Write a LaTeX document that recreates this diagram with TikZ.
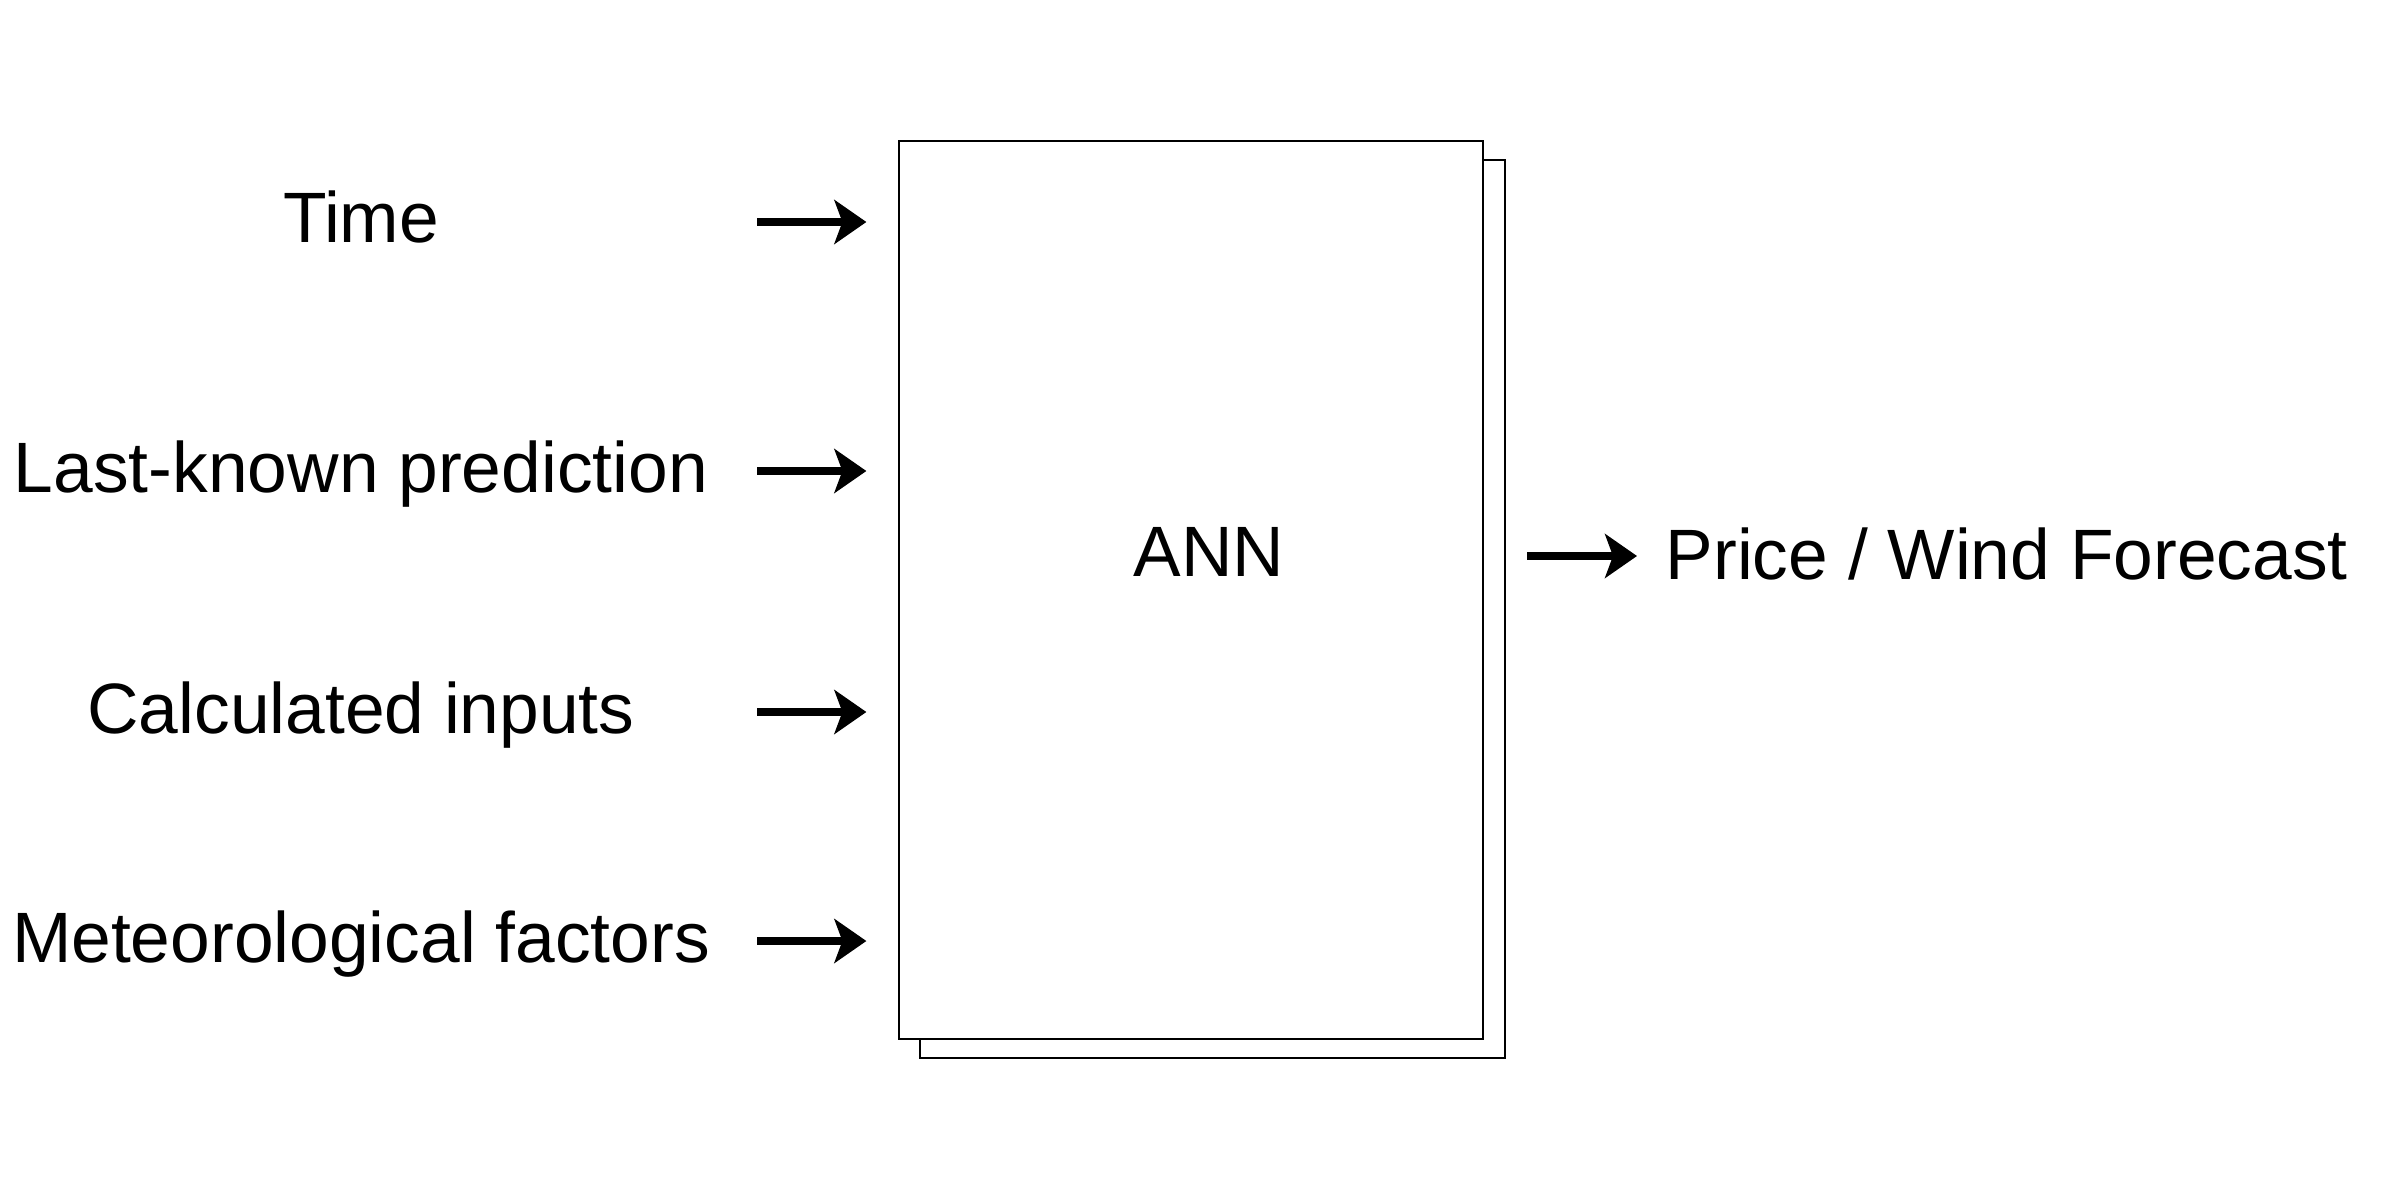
\documentclass[tikz,border=0pt]{standalone}
\usepackage{fontspec}
\setmainfont{Liberation Sans}
\usetikzlibrary{arrows.meta,positioning}

\begin{document}
\begin{tikzpicture}[
    label/.style={font=\fontsize{20.3}{24}\selectfont, inner sep=0pt, anchor=base},
    flow/.style={line width=2.5pt, -{Stealth[length=0.32cm, width=0.44cm, inset=0.08cm]}},
    sheet/.style={draw, line width=0.5pt, fill=white, minimum width=5.845cm, minimum height=8.985cm, inner sep=0pt}
  ]
    \useasboundingbox (0,0) rectangle (24,12);
    % network box with shadow sheet
    \node[sheet] (annback) at (12.125,5.91) {};
    \node[sheet] (ann) at (11.91,6.10) {};
    \node[label] (annlabel) at (12.09,6.24) {ANN};
    % inputs
    \node[label] (time) at (3.61,9.57) {Time};
    \node[label] (last) at (3.61,7.08) {Last-known prediction};
    \node[label] (calc) at (3.61,4.67) {Calculated inputs};
    \node[label] (meteo) at (3.61,2.38) {Meteorological factors};
    \coordinate (a1) at (7.57,9.78);
    \coordinate (a2) at (7.57,7.29);
    \coordinate (a3) at (7.57,4.88);
    \coordinate (a4) at (7.57,2.59);
    \draw[flow, shorten >=0.315cm] (a1) -- (ann.west |- a1);
    \draw[flow, shorten >=0.315cm] (a2) -- (ann.west |- a2);
    \draw[flow, shorten >=0.315cm] (a3) -- (ann.west |- a3);
    \draw[flow, shorten >=0.315cm] (a4) -- (ann.west |- a4);
    % output
    \node[label, anchor=base west] (out) at (16.65,6.21) {Price / Wind Forecast};
    \coordinate (b1) at (15.27,6.44);
    \draw[flow, shorten >=0.28cm] (b1) -- (out.west |- b1);
\end{tikzpicture}
\end{document}
